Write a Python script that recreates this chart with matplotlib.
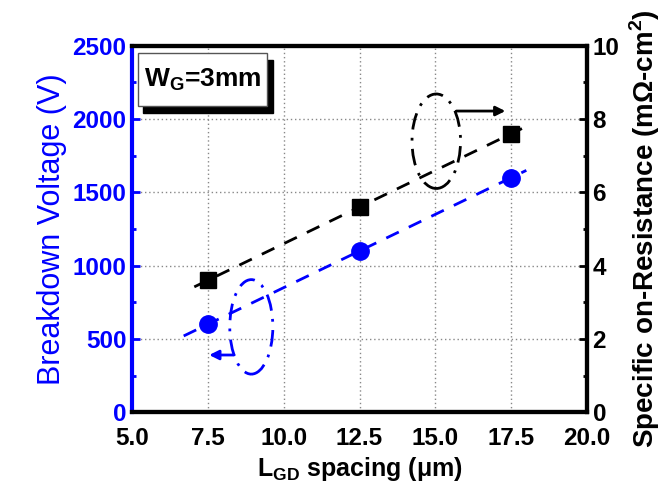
import numpy as np
import matplotlib
matplotlib.use("Agg")
import matplotlib.pyplot as plt
from matplotlib.patches import Ellipse, Rectangle
from matplotlib.ticker import MultipleLocator

plt.rcParams['font.family'] = ['Liberation Sans', 'DejaVu Sans']
plt.rcParams['mathtext.fontset'] = 'custom'
plt.rcParams['mathtext.rm'] = 'Liberation Sans'
plt.rcParams['mathtext.bf'] = 'Liberation Sans:bold'

# Measured devices
lgd = [7.5, 12.5, 17.5]                 # gate-drain spacing (um)
breakdown_v = [600, 1100, 1600]         # breakdown voltage (V)
ron_sp = [3.6, 5.6, 7.6]                # specific on-resistance (mOhm-cm^2)

x_ticks = [5.0, 7.5, 10.0, 12.5, 15.0, 17.5, 20.0]
left_ticks = [0, 500, 1000, 1500, 2000, 2500]
right_ticks = [0, 2, 4, 6, 8, 10]

BLUE = '#0000ff'

fig = plt.figure(figsize=(6.64, 4.93), dpi=100)
ax = fig.add_axes([0.199, 0.164, 0.685, 0.743])
ax2 = ax.twinx()

# Linear trends
bv_fit = np.polyfit(lgd, breakdown_v, 1)
xb = np.array([6.7, 18.0])
ax.plot(xb, np.polyval(bv_fit, xb), color=BLUE, lw=2, ls=(0, (5, 4)), zorder=3)
ax.plot(lgd, breakdown_v, 'o', color=BLUE, ms=12.5, zorder=4)

ron_fit = np.polyfit(lgd, ron_sp, 1)
xr = np.array([7.05, 18.15])
ax2.plot(xr, np.polyval(ron_fit, xr), color='black', lw=2, ls=(0, (5, 4)), zorder=3)
ax2.plot(lgd, ron_sp, 's', color='black', ms=11, zorder=4)

# Ellipse/arrow annotations pointing to each axis
ax.add_patch(Ellipse((8.93, 582), 1.42, 645, fill=False, ec=BLUE, lw=2,
                     ls=(0, (6, 3, 1, 3)), zorder=3))
ax.annotate('', xy=(7.45, 390), xytext=(8.45, 390),
            arrowprops=dict(arrowstyle='-|>', color=BLUE, lw=2, mutation_scale=14))
ax.add_patch(Ellipse((15.03, 1849), 1.6, 645, fill=False, ec='black', lw=2,
                     ls=(0, (6, 3, 1, 3)), zorder=3))
ax.annotate('', xy=(17.4, 2055), xytext=(15.6, 2055),
            arrowprops=dict(arrowstyle='-|>', color='black', lw=2, mutation_scale=14))

# Axis limits and ticks
ax.set_xlim(5, 20)
ax.set_ylim(0, 2500)
ax2.set_ylim(0, 10)
ax.set_xticks(x_ticks)
ax.set_xticklabels([f'{v:.1f}' for v in x_ticks], fontsize=17.5, fontweight='bold')
ax.set_yticks(left_ticks)
ax.set_yticklabels([str(v) for v in left_ticks], fontsize=17.5, fontweight='bold', color=BLUE)
ax.yaxis.set_minor_locator(MultipleLocator(250))
ax2.set_yticks(right_ticks)
ax2.set_yticklabels([str(v) for v in right_ticks], fontsize=17.5, fontweight='bold')
ax2.yaxis.set_minor_locator(MultipleLocator(1))

ax.tick_params(axis='x', direction='in', length=0, pad=11)
ax.tick_params(axis='y', which='major', direction='in', length=6, width=2, color=BLUE, pad=4)
ax.tick_params(axis='y', which='minor', direction='in', length=3, width=2, color=BLUE)
ax2.tick_params(axis='y', which='major', direction='in', length=6, width=2, pad=4)
ax2.tick_params(axis='y', which='minor', direction='in', length=3, width=2)

ax.grid(True, which='major', color='#888888', ls=(0, (1, 2)), lw=1)
ax.set_axisbelow(True)

for s in ['top', 'bottom', 'right']:
    ax.spines[s].set_linewidth(3)
    ax2.spines[s].set_linewidth(3)
ax.spines['left'].set_color(BLUE)
ax.spines['left'].set_linewidth(3)
ax2.spines['left'].set_visible(False)

ax.set_xlabel(r'L$_{\mathbf{GD}}$ spacing ($\mathbf{\mu}$m)', fontsize=18,
              fontweight='bold', labelpad=3)
ax.set_ylabel('Breakdown Voltage (V)', fontsize=22, color=BLUE, labelpad=4)
ax2.set_ylabel('Specific on-Resistance (m\u03a9-cm$^{\\mathbf{2}}$)', fontsize=20,
               fontweight='bold', labelpad=6)

# W_G label box with drop shadow
bx0, by0, bw, bh = 0.012, 0.835, 0.285, 0.145
ax.add_patch(Rectangle((bx0 + 0.012, by0 - 0.018), bw, bh, transform=ax.transAxes,
                       fc='black', ec='black', zorder=5))
ax.add_patch(Rectangle((bx0, by0), bw, bh, transform=ax.transAxes,
                       fc='white', ec='#555555', lw=1, zorder=6))
ax.text(bx0 + bw / 2, by0 + bh / 2, r'W$_{\mathbf{G}}$=3mm', transform=ax.transAxes,
        fontsize=19, fontweight='bold', ha='center', va='center', zorder=7)

fig.savefig('out.png', dpi=100)
